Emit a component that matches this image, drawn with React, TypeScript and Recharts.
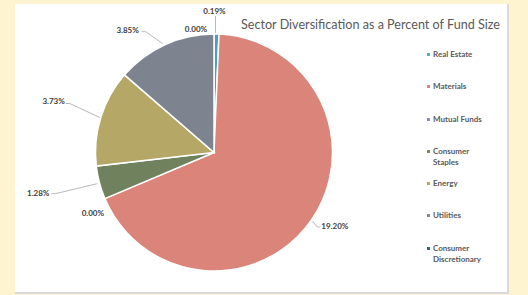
import React from 'react';
import { PieChart, Pie, Cell, Legend } from 'recharts';

const sectors = [
  'Real Estate',
  'Materials',
  'Mutual Funds',
  'Consumer Staples',
  'Energy',
  'Utilities',
  'Consumer Discretionary',
];
const fundShare = [0.19, 19.2, 0.0, 1.28, 3.73, 3.85, 0.0];
const sliceColors = ['#4A9FBF', '#DB847A', '#8C7FB0', '#6F815D', '#B5A765', '#7E848F', '#2E6A7A'];
const legendColors = ['#5AA9C6', '#E0827A', '#9287BA', '#6F8C5A', '#BBA862', '#7F8691', '#2E6A7A'];

const data = sectors.map((name, i) => ({ name, value: fundShare[i] }));

// label placement relative to the slice anchor (layout only)
const labelLayout = [
  { dx: -2, dy: -23, anchor: 'middle', line: [[-1, -1], [-1, -18]] },
  { dx: 10, dy: 6, anchor: 'start', line: [[1, 1], [6, 7], [9, 7]] },
  { dx: -12, dy: 14, anchor: 'middle', line: null },
  { dx: -50, dy: 10, anchor: 'end', line: [[-48, 11], [-44, 11], [-2, 1]] },
  { dx: -36, dy: -17, anchor: 'end', line: [[-35, -14], [-31, -14], [-1, 0]] },
  { dx: -26, dy: -15, anchor: 'end', line: [[-23, -13], [-19, -13], [-2, -1]] },
  { dx: -18, dy: -5, anchor: 'middle', line: null },
];

const RAD = Math.PI / 180;

const renderLabel = (props: any) => {
  const { cx, cy, midAngle, outerRadius, index, value } = props;
  const ax = cx + outerRadius * Math.cos(-midAngle * RAD);
  const ay = cy + outerRadius * Math.sin(-midAngle * RAD);
  const lay = labelLayout[index];
  const pts = lay.line ? lay.line.map(([x, y]) => `${ax + x},${ay + y}`).join(' ') : null;
  return (
    <g key={`lbl-${index}`}>
      {pts && <polyline points={pts} fill="none" stroke="#A6A6A6" strokeWidth={0.8} />}
      <text
        x={ax + lay.dx}
        y={ay + lay.dy}
        textAnchor={lay.anchor}
        dominantBaseline="central"
        fontFamily="Lato, 'Open Sans', sans-serif"
        fontWeight={700}
        fontSize={8}
        fill="#404040"
      >
        {`${Number(value).toFixed(2)}%`}
      </text>
    </g>
  );
};

const renderLegend = (props: any) => {
  const payload = [...(props.payload || [])].sort(
    (a: any, b: any) => sectors.indexOf(a.value) - sectors.indexOf(b.value)
  );
  return (
    <div style={{ fontFamily: "Lato, 'Open Sans', sans-serif" }}>
      {payload.map((entry: any) => {
        const i = sectors.indexOf(entry.value);
        return (
          <div key={entry.value} style={{ position: 'relative', height: 32.3 }}>
            <span
              style={{
                position: 'absolute',
                left: 3,
                top: 4,
                width: 3,
                height: 3,
                background: legendColors[i],
              }}
            />
            <div
              style={{
                position: 'absolute',
                left: 9,
                top: 0,
                width: 58,
                fontSize: 8,
                lineHeight: '11px',
                fontWeight: 700,
                color: '#595959',
              }}
            >
              {entry.value}
            </div>
          </div>
        );
      })}
    </div>
  );
};

export default function App() {
  return (
    <div
      style={{
        position: 'absolute',
        left: 0,
        top: 0,
        width: 528,
        height: 295,
        background: '#FFF4D0',
        overflow: 'hidden',
      }}
    >
      <div
        style={{
          position: 'absolute',
          left: 15,
          top: 4,
          width: 492,
          height: 288,
          background: '#FFFFFF',
          boxShadow: '1px 1px 0 1px #DADADA',
        }}
      />
      <svg
        width={528}
        height={295}
        style={{ position: 'absolute', left: 0, top: 0 }}
      >
        <text
          x={241}
          y={23}
          dominantBaseline="central"
          fontFamily="Lato, 'Open Sans', sans-serif"
          fontSize={14}
          fill="#595959"
          textLength={259}
          lengthAdjust="spacingAndGlyphs"
        >
          Sector Diversification as a Percent of Fund Size
        </text>
      </svg>
      <div style={{ position: 'absolute', left: 0, top: 0 }}>
        <PieChart width={528} height={295} margin={{ top: 0, right: 0, bottom: 0, left: 0 }}>
          <Pie
            data={data}
            dataKey="value"
            nameKey="name"
            cx={214}
            cy={152.5}
            outerRadius={118.5}
            startAngle={90}
            endAngle={-270}
            stroke="#FFFFFF"
            strokeWidth={1.5}
            label={renderLabel}
            labelLine={false}
            isAnimationActive={false}
          >
            {data.map((d, i) => (
              <Cell key={d.name} fill={sliceColors[i]} />
            ))}
          </Pie>
          <Legend
            layout="vertical"
            content={renderLegend}
            itemSorter={null as any}
            wrapperStyle={{ position: 'absolute', left: 424, top: 49, width: 90 }}
          />
        </PieChart>
      </div>
    </div>
  );
}
